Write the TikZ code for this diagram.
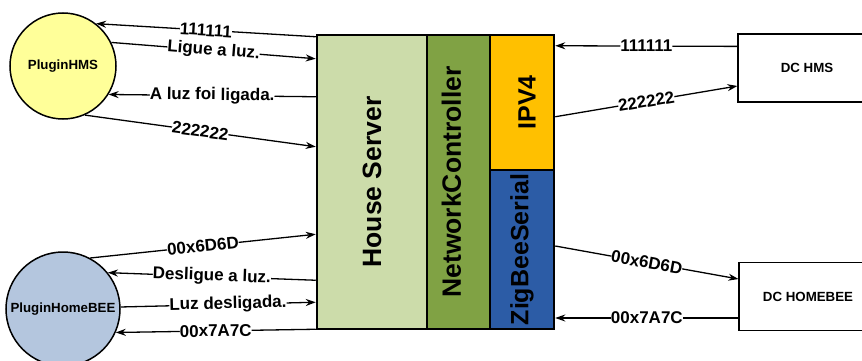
\documentclass[tikz,border=0pt]{standalone}
\usepackage{fontspec}
\setmainfont{Liberation Sans}
\usepackage{tikz}
\usetikzlibrary{arrows.meta}

\definecolor{hmsyellow}{RGB}{255,255,153}
\definecolor{beeblue}{RGB}{180,198,222}
\definecolor{servergreen}{RGB}{204,220,170}
\definecolor{ctrlgreen}{RGB}{128,162,68}
\definecolor{ipvorange}{RGB}{255,192,0}
\definecolor{zigblue}{RGB}{44,92,166}

\begin{document}
\begin{tikzpicture}[->,>={Stealth[length=10pt,width=7pt]},x=1pt,y=-1pt,line width=1.3pt,
  plugin/.style={circle,draw,line width=1.5pt,inner sep=0pt,
                 font=\fontsize{13.3}{16}\selectfont\bfseries},
  layer/.style={draw,line width=2.5pt,inner sep=0pt},
  boxtxt/.style={rotate=90,font=\fontsize{26.5}{30}\selectfont\bfseries},
  smalltxt/.style={rotate=90,font=\fontsize{25}{30}\selectfont\bfseries},
  dc/.style={draw,line width=1.2pt,minimum width=138pt,minimum height=68pt,
             font=\fontsize{13.3}{16}\selectfont\bfseries},
  msg/.style={fill=white,inner sep=0pt,sloped,
              font=\fontsize{17}{19}\selectfont\bfseries}]
  \useasboundingbox (0,0) rectangle (862,361);

  \node[plugin,fill=hmsyellow,minimum size=106pt] (hms) at (63,66) {PluginHMS};
  \node[plugin,fill=beeblue,minimum size=114pt]   (bee) at (63,309) {PluginHomeBEE};

  \node[layer,fill=servergreen,minimum width=110pt,minimum height=294pt,
        label={[boxtxt]center:House Server}] (server) at (372,182) {};
  \node[layer,fill=ctrlgreen,minimum width=63pt,minimum height=294pt,
        label={[boxtxt,yshift=7pt]center:NetworkController}] (ctrl) at (458.5,182) {};
  \node[layer,fill=ipvorange,minimum width=64pt,minimum height=135pt,
        label={[smalltxt,yshift=-5pt]center:IPV4}] (ipv4) at (522,102.5) {};
  \node[layer,fill=zigblue,minimum width=64pt,minimum height=159pt,
        label={[smalltxt]center:ZigBeeSerial}] (zigbee) at (522,249.5) {};

  \node[dc] (dchms) at (807,68)   {DC HMS};
  \node[dc] (dcbee) at (808,296.5) {DC HOMEBEE};

  % PluginHMS <-> House Server
  \path ([yshift=-3pt]server.north west)   edge node[msg] {111111} (hms.52)
        (hms.26)                           edge node[msg] {Ligue a luz.} ([yshift=-25pt]server.north west)
        ([yshift=-63pt]server.north west)  edge node[msg] {A luz foi ligada.} (hms.-32)
        (hms.-66)                          edge node[msg] {222222} ([yshift=-113pt]server.north west);

  % PluginHomeBEE <-> House Server
  \path (bee.62)                           edge node[msg] {00x6D6D} ([yshift=96pt]server.south west)
        ([yshift=50pt]server.south west)   edge node[msg] {Desligue a luz.} (bee.39)
        (bee.2)                            edge node[msg,pos=0.55] {Luz desligada.} ([yshift=28pt]server.south west)
        ([yshift=1pt]server.south west)    edge node[msg] {00x7A7C} (bee.-24);

  % devices <-> NetworkController
  \path ([yshift=-13pt]dchms.north west)   edge node[msg] {111111} ([yshift=-12pt]ipv4.north east)
        ([yshift=-83pt]ipv4.north east)    edge node[msg] {222222} ([yshift=-18pt]dchms.west)
        ([yshift=3.5pt]zigbee.east)        edge node[msg] {00x6D6D} ([yshift=17.5pt]dcbee.west)
        ([yshift=-21.5pt]dcbee.west)       edge node[msg] {00x7A7C} ([yshift=-68.5pt]zigbee.east);

\end{tikzpicture}
\end{document}
